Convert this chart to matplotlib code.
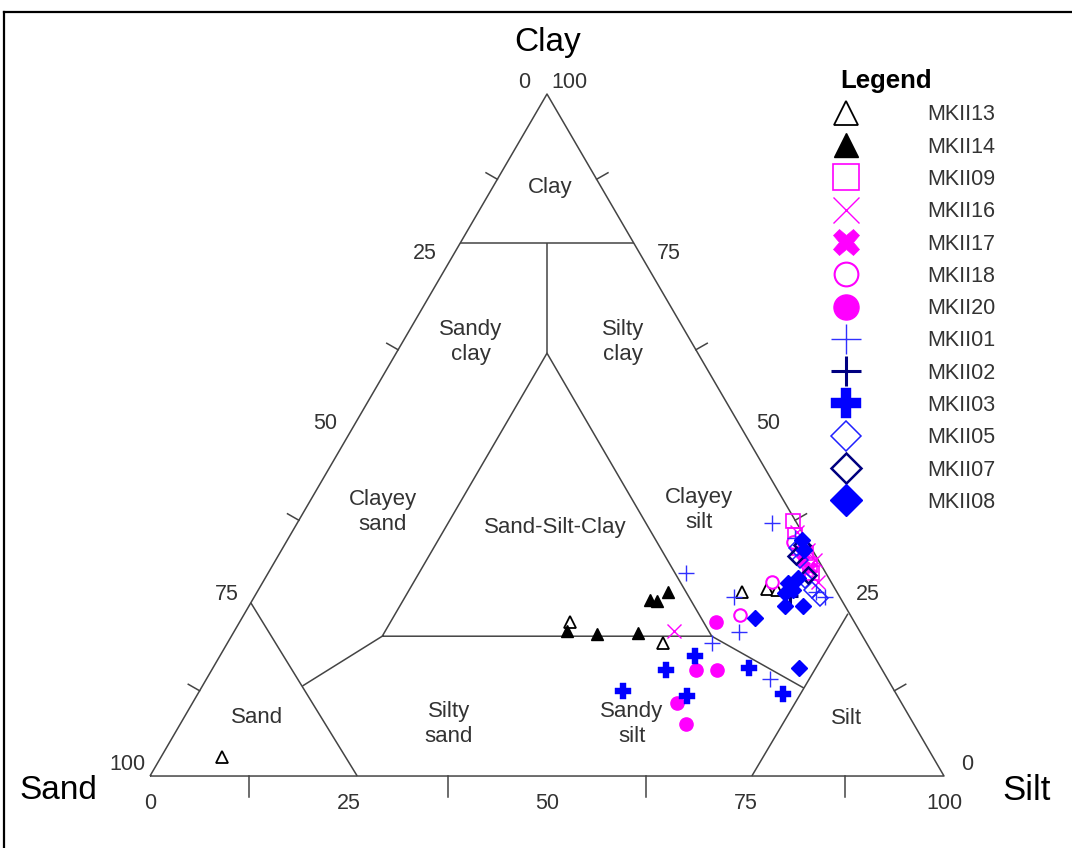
import numpy as np
import matplotlib
matplotlib.use("Agg")
import matplotlib.pyplot as plt
from matplotlib.lines import Line2D

plt.rcParams['font.family'] = ['Liberation Sans', 'DejaVu Sans']

mkii13_clay = [2.8, 22.6, 19.5, 27.0, 27.4, 27.3]
mkii13_silt = [7.7, 41.6, 54.9, 61.1, 64.0, 65.3]
mkii14_clay = [21.3, 20.8, 21.0, 25.8, 25.7, 27.0]
mkii14_silt = [41.9, 45.9, 50.9, 50.1, 51.0, 51.8]
mkii09_clay = [37.4, 35.3, 33.4, 32.7, 30.9, 29.8]
mkii09_silt = [62.3, 63.6, 65.1, 66.3, 67.7, 68.5]
mkii16_clay = [21.3, 35.8, 33.1, 31.7, 29.9, 28.4]
mkii16_silt = [55.4, 63.6, 66.3, 67.9, 67.7, 69.9]
mkii17_clay = [31.7, 30.5, 33.9]
mkii17_silt = [66.4, 67.9, 64.9]
mkii18_clay = [23.6, 28.4, 34.3]
mkii18_silt = [62.5, 64.1, 63.8]
mkii20_clay = [22.6, 15.5, 15.5, 10.7, 7.6]
mkii20_silt = [60.0, 61.0, 63.6, 61.0, 63.7]
mkii01_clay = [37.1, 29.8, 26.2, 21.1, 19.5, 14.2, 26.2, 27.0, 34.9]
mkii01_silt = [59.8, 52.6, 60.4, 63.6, 61.0, 71.0, 71.9, 70.4, 63.8]
mkii02_clay = [26.4]
mkii02_silt = [67.4]
mkii03_clay = [12.5, 15.5, 17.6, 11.7, 15.8, 12.0]
mkii03_silt = [53.3, 57.3, 59.8, 61.8, 67.6, 73.7]
mkii05_clay = [31.7, 28.7, 27.3, 26.1, 33.4]
mkii05_silt = [66.0, 68.2, 69.7, 71.3, 64.8]
mkii07_clay = [33.9, 32.3, 29.5]
mkii07_silt = [65.2, 65.2, 68.1]
mkii08_clay = [23.2, 15.8, 24.9, 24.9, 28.3, 27.3, 29.0, 26.8, 34.6, 33.1]
mkii08_silt = [64.6, 73.8, 67.5, 69.8, 66.2, 67.3, 67.1, 66.6, 64.8, 65.8]

tick_vals = [12.5, 37.5, 62.5, 87.5]
label_vals = [0, 25, 50, 75, 100]


def to_xy(clay, silt):
    clay = np.asarray(clay, dtype=float)
    silt = np.asarray(silt, dtype=float)
    return silt + clay / 2, clay * np.sqrt(3) / 2


fig = plt.figure(figsize=(10.72, 8.48), dpi=100)
ax = fig.add_axes([0, 0, 1, 1])
ax.set_xlim(-18.89, 116.12)
ax.set_ylim(-9.14, 98.54)
ax.axis('off')

# kader
fig.add_artist(Line2D([4 / 1072, 1.0], [1 - 12 / 848] * 2, color='black', lw=1.6))
fig.add_artist(Line2D([4 / 1072] * 2, [0.0, 1 - 12 / 848], color='black', lw=1.6))

# grenzen (klei, silt)
lines = [
    [(0, 0), (0, 100), (100, 0), (0, 0)],
    [(78.2, 0), (78.2, 21.8)],
    [(62, 19), (78.2, 10.9)],
    [(20.5, 19), (20.5, 60.5), (62, 19), (20.5, 19)],
    [(25.4, 0), (0, 26.1)],
    [(23.8, 76.0), (0, 75.8)],
    [(20.5, 19), (13.2, 12.6)],
    [(20.5, 60.5), (12.9, 75.9)],
]
lc = '#444444'
for seg in lines:
    c, s = zip(*seg)
    x, y = to_xy(c, s)
    ax.plot(x, y, color=lc, lw=1.1, solid_capstyle='butt')

# tickjes
n_left = np.array([-np.sqrt(3) / 2, 0.5]) * 1.65
n_right = np.array([np.sqrt(3) / 2, 0.5]) * 1.65
for v in tick_vals:
    x, y = to_xy(0, v)
    ax.plot([x, x], [y, y - 2.7], color=lc, lw=1.1)
    x, y = to_xy(100 - v, 0)
    ax.plot([x, x + n_left[0]], [y, y + n_left[1]], color=lc, lw=1.1)
    x, y = to_xy(v, 100 - v)
    ax.plot([x, x + n_right[0]], [y, y + n_right[1]], color=lc, lw=1.1)

tc = '#333333'
for v in label_vals:
    x, y = to_xy(0, v)
    ax.annotate(str(v), (x, y), xytext=(0, -20), textcoords='offset points',
                ha='center', va='center', fontsize=15.5, color=tc)
    x, y = to_xy(100 - v, 0)
    ax.annotate(str(v), (x, y), xytext=(-16.5, 8), textcoords='offset points',
                ha='center', va='center', fontsize=15.5, color=tc)
    x, y = to_xy(v, 100 - v)
    ax.annotate(str(v), (x, y), xytext=(16.5, 8), textcoords='offset points',
                ha='center', va='center', fontsize=15.5, color=tc)

ax.text(50.13, 93.2, 'Clay', ha='center', va='center', fontsize=24)
ax.text(-11.59, -1.78, 'Sand', ha='center', va='center', fontsize=24)
ax.text(110.45, -1.78, 'Silt', ha='center', va='center', fontsize=25)

# klassenamen
regions = [
    ('Clay', 550, 187), ('Sandy\nclay', 471, 342), ('Silty\nclay', 623, 342),
    ('Clayey\nsand', 383, 512), ('Sand-Silt-Clay', 555, 527), ('Clayey\nsilt', 699, 510),
    ('Sand', 257, 717), ('Silty\nsand', 449, 724), ('Sandy\nsilt', 632, 724), ('Silt', 847, 718),
]
for name, px, py in regions:
    ax.text((px - 150) / 7.94, (776 - py) / 7.875, name, ha='center', va='center',
            fontsize=16, color=tc, linespacing=1.2)

mag = '#ff00ff'
blue = '#0000ff'
navy = '#000080'
series = [
    ('MKII13', mkii13_clay, mkii13_silt, dict(marker='^', ms=9, mfc='white', mec='black', mew=1.3)),
    ('MKII14', mkii14_clay, mkii14_silt, dict(marker='^', ms=9, mfc='black', mec='black')),
    ('MKII09', mkii09_clay, mkii09_silt, dict(marker='s', ms=10, mfc='none', mec=mag, mew=1.2)),
    ('MKII16', mkii16_clay, mkii16_silt, dict(marker='x', ms=10, mec=mag, mew=1.0)),
    ('MKII17', mkii17_clay, mkii17_silt, dict(marker='X', ms=10, mfc=mag, mec=mag, mew=0.5)),
    ('MKII18', mkii18_clay, mkii18_silt, dict(marker='o', ms=9, mfc='white', mec=mag, mew=1.5)),
    ('MKII20', mkii20_clay, mkii20_silt, dict(marker='o', ms=9.5, mfc=mag, mec=mag)),
    ('MKII01', mkii01_clay, mkii01_silt, dict(marker='+', ms=11, mec='#3030ff', mew=1.0)),
    ('MKII02', mkii02_clay, mkii02_silt, dict(marker='+', ms=11, mec=navy, mew=2.2)),
    ('MKII03', mkii03_clay, mkii03_silt, dict(marker='P', ms=11, mfc=blue, mec=blue, mew=0.3)),
    ('MKII05', mkii05_clay, mkii05_silt, dict(marker='D', ms=8, mfc='none', mec='#2020ff', mew=1.1)),
    ('MKII07', mkii07_clay, mkii07_silt, dict(marker='D', ms=8, mfc='none', mec=navy, mew=1.8)),
    ('MKII08', mkii08_clay, mkii08_silt, dict(marker='D', ms=8.5, mfc=blue, mec=blue)),
]
handles = []
for name, c, s, style in series:
    x, y = to_xy(c, s)
    h, = ax.plot(x, y, ls='none', label=name, **style)
    handles.append(h)

leg = ax.legend(handles=handles, loc='upper left', bbox_to_anchor=(840 / 1072, 1 - 69 / 848),
                bbox_transform=fig.transFigure, frameon=False, title='Legend',
                alignment='left', fontsize=15.5,
                title_fontproperties={'weight': 'bold', 'size': 18.5},
                markerscale=1.9, numpoints=1, handlelength=0.6, handletextpad=3.43,
                labelspacing=0.525, borderpad=0, borderaxespad=0)
for t in leg.get_texts():
    t.set_color(tc)

fig.savefig('out.png', dpi=100)
